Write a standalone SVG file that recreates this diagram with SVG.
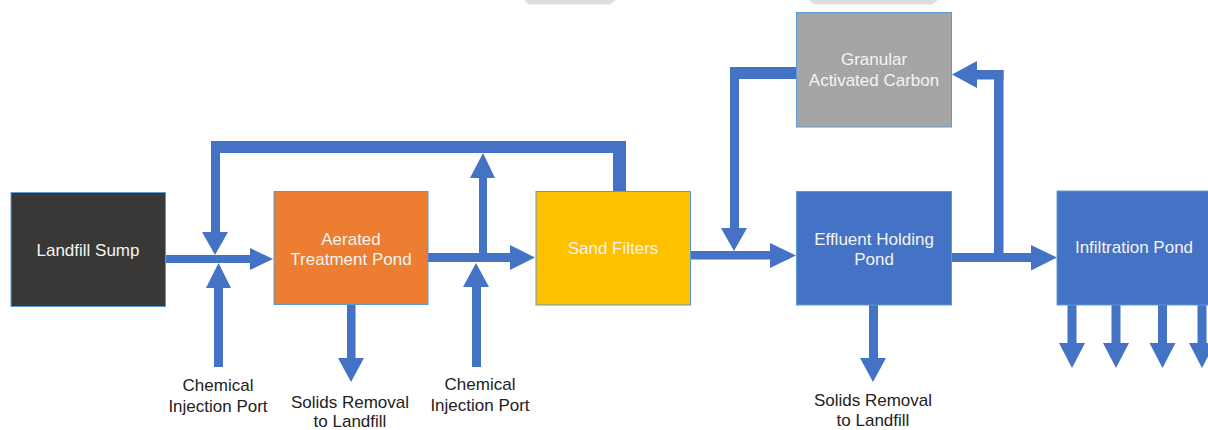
<svg xmlns="http://www.w3.org/2000/svg" width="1208" height="430" viewBox="0 0 1208 430">
<style>
.box{stroke:#5b9bd5;stroke-width:1}
.bt{font-family:"Liberation Sans",Arial,sans-serif;font-size:17px;fill:#f4f4f4;text-anchor:middle}
.lt{font-family:"Liberation Sans",Arial,sans-serif;font-size:17px;fill:#222222;text-anchor:middle}
.pipe{fill:#4472c4}
</style>
<rect width="1208" height="430" fill="#ffffff"/>
<polygon points="524,0 616,0 610,4.5 529,4.5" fill="#dedede"/>
<polygon points="809,0 938,0 932,4.5 814,4.5" fill="#dedede"/>
<g id="connectors" class="pipe">
  <rect x="166" y="255" width="85" height="8"/>
  <polygon points="250,248 273,259 250,270"/>
  <rect x="211" y="141" width="415" height="12"/>
  <rect x="211" y="141" width="9" height="92"/>
  <polygon points="202,232 228,232 215,255"/>
  <rect x="613" y="141" width="13" height="51"/>
  <rect x="214" y="287" width="9" height="80"/>
  <polygon points="206,288 231,288 218.5,263"/>
  <rect x="428" y="253" width="83" height="9"/>
  <polygon points="510,245 535,257.5 510,270"/>
  <rect x="479" y="177" width="8" height="81"/>
  <polygon points="470,178 495,178 483,153"/>
  <rect x="472" y="286" width="9" height="81"/>
  <polygon points="463,287 489,287 476,263"/>
  <rect x="347" y="304" width="8.5" height="55"/>
  <polygon points="338,358 364,358 351,382"/>
  <rect x="690" y="251" width="81" height="8.5"/>
  <polygon points="770,243 796,255.5 770,268"/>
  <rect x="730" y="67" width="66" height="12"/>
  <rect x="730" y="67" width="9" height="162"/>
  <polygon points="721,228 747,228 734,251"/>
  <rect x="951" y="253" width="81" height="9"/>
  <polygon points="1031,245 1057,257.5 1031,270.5"/>
  <rect x="994" y="70" width="9.5" height="192"/>
  <rect x="976" y="70" width="27.5" height="9.5"/>
  <polygon points="977,61 952,74.5 977,88"/>
  <rect x="869" y="305" width="9" height="54"/>
  <polygon points="860,358 886,358 873,382"/>
  <rect x="1067.5" y="305" width="9" height="39"/>
  <polygon points="1059,343 1085,343 1072,368"/>
  <rect x="1111.5" y="305" width="9" height="39"/>
  <polygon points="1103,343 1129,343 1116,368"/>
  <rect x="1158" y="305" width="9" height="39"/>
  <polygon points="1149.5,343 1175.5,343 1162.5,368"/>
  <rect x="1197.5" y="305" width="9" height="39"/>
  <polygon points="1189,343 1215,343 1202,368"/>
</g>
<g id="landfill-sump">
  <rect class="box" x="11" y="192.5" width="154.5" height="114" fill="#3a3836"/>
  <text class="bt" x="88" y="256">Landfill Sump</text>
</g>
<g id="aerated-pond">
  <rect class="box" x="274" y="191.5" width="154" height="113" fill="#ed7d31"/>
  <text class="bt" x="351" y="245">Aerated</text>
  <text class="bt" x="351" y="265">Treatment Pond</text>
</g>
<g id="sand-filters">
  <rect class="box" x="536" y="191.5" width="154.5" height="113.5" fill="#ffc000"/>
  <text class="bt" x="613" y="254">Sand Filters</text>
</g>
<g id="gac">
  <rect class="box" x="796.5" y="12.5" width="155" height="114.5" fill="#a5a5a5"/>
  <text class="bt" x="874" y="65">Granular</text>
  <text class="bt" x="874" y="86">Activated Carbon</text>
</g>
<g id="effluent-pond">
  <rect class="box" x="796.5" y="191.5" width="155" height="113.5" fill="#4472c4"/>
  <text class="bt" x="874" y="245">Effluent Holding</text>
  <text class="bt" x="874" y="265">Pond</text>
</g>
<g id="infiltration-pond">
  <rect class="box" x="1057" y="191" width="154" height="114" fill="#4472c4"/>
  <text class="bt" x="1134" y="253">Infiltration Pond</text>
</g>
<g id="chem-port-1">
  <text class="lt" x="218" y="391">Chemical</text>
  <text class="lt" x="218" y="411.5">Injection Port</text>
</g>
<g id="solids-1">
  <text class="lt" x="350" y="407.5">Solids Removal</text>
  <text class="lt" x="350" y="426.5">to Landfill</text>
</g>
<g id="chem-port-2">
  <text class="lt" x="480" y="390">Chemical</text>
  <text class="lt" x="480" y="411">Injection Port</text>
</g>
<g id="solids-2">
  <text class="lt" x="873" y="406">Solids Removal</text>
  <text class="lt" x="873" y="426">to Landfill</text>
</g>
</svg>
